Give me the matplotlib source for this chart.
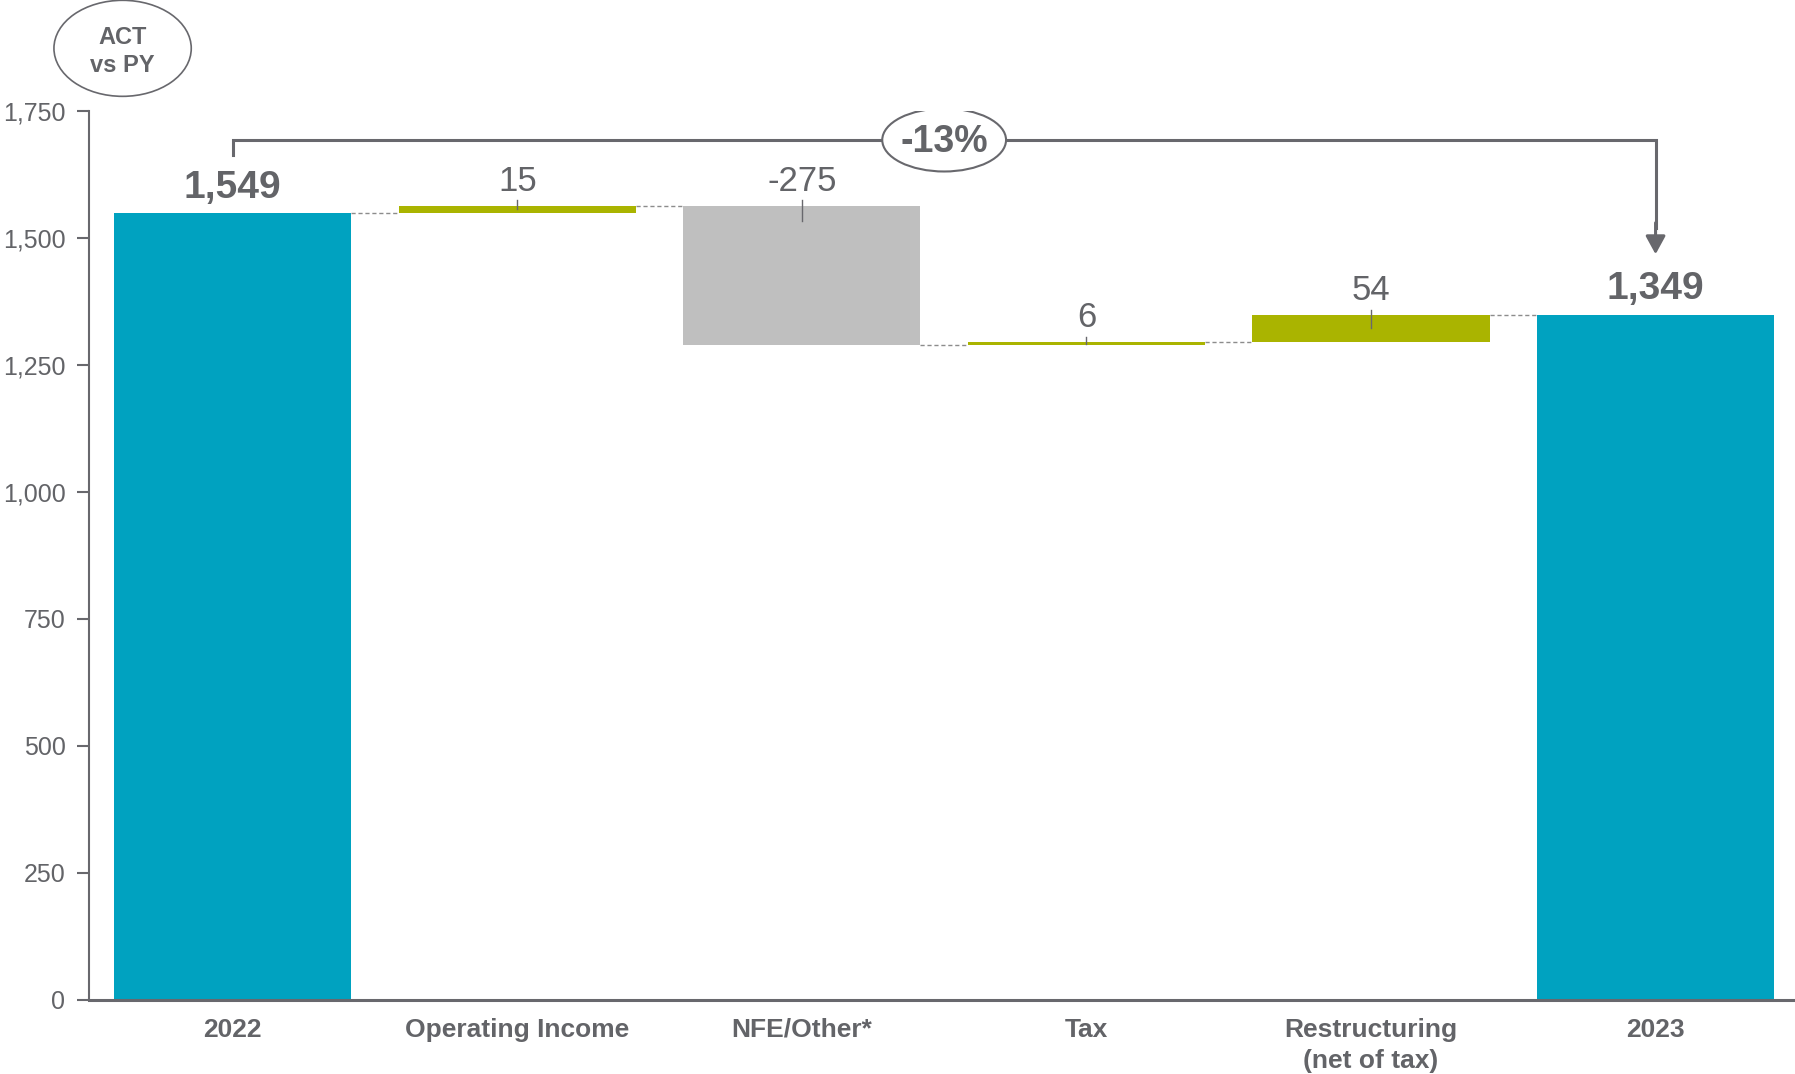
#!/usr/bin/env python3
"""Waterfall chart: ACT vs PY bridge 2022 -> 2023."""

import matplotlib
matplotlib.use("Agg")
import matplotlib.pyplot as plt
from matplotlib.patches import Ellipse

categories = ["2022", "Operating Income", "NFE/Other*", "Tax", "Restructuring\n(net of tax)", "2023"]
start_value = 1549
deltas = [15, -275, 6, 54]
end_value = 1349
delta_labels = ["15", "-275", "6", "54"]
total_labels = ["1,549", "1,349"]
change_label = "-13%"
yticks = [0, 250, 500, 750, 1000, 1250, 1500, 1750]

TEAL = "#00a2c0"
GREEN = "#aab400"
GREY_BAR = "#bfbfbf"
TEXT = "#636468"
LINE = "#68686d"

plt.rcParams["font.family"] = ["Liberation Sans Narrow", "Liberation Sans", "DejaVu Sans"]

fig = plt.figure(figsize=(17.95, 10.74), dpi=100)
ax = fig.add_axes([0.0496, 0.069, 0.9504, 0.8276])

width = 0.833
x = list(range(len(categories)))

# totals
ax.bar([x[0], x[-1]], [start_value, end_value], width=width, color=TEAL, zorder=2)

# deltas
level = start_value
levels = [start_value]
for i, d in enumerate(deltas):
    bottom = level if d >= 0 else level + d
    color = GREEN if d >= 0 else GREY_BAR
    ax.bar(x[i + 1], abs(d), bottom=bottom, width=width, color=color, zorder=2)
    top = bottom + abs(d)
    ax.plot([x[i + 1], x[i + 1]], [top + 10, top - min(0.5 * abs(d), 30)],
            color=LINE, lw=1, zorder=3)
    ax.text(x[i + 1], top + 48, delta_labels[i], ha="center", va="center",
            fontsize=25, color=TEXT)
    level += d
    levels.append(level)

# connectors
for i in range(len(categories) - 1):
    ax.plot([x[i] + width / 2, x[i + 1] - width / 2], [levels[i], levels[i]],
            color="#8c8c8c", lw=1, ls=(0, (3, 2)), zorder=1)

# total labels
ax.text(x[0], start_value + 50, total_labels[0], ha="center", va="center",
        fontsize=28, fontweight="bold", color=TEXT)
ax.text(x[-1], end_value + 50, total_labels[1], ha="center", va="center",
        fontsize=28, fontweight="bold", color=TEXT)

# bracket with change
y_br = 1693
ax.plot([x[0], x[0], x[-1], x[-1]], [1664, y_br, y_br, 1520], color=LINE, lw=2.2,
        zorder=3, solid_joinstyle="miter")
ax.annotate("", xy=(x[-1], 1468), xytext=(x[-1], 1530),
            arrowprops=dict(arrowstyle="-|>,head_length=1.1,head_width=0.6",
                            color=LINE, lw=2.2, shrinkA=0, shrinkB=0), zorder=3)
ax.add_patch(Ellipse((2.5, y_br), 0.435, 124, facecolor="white", edgecolor=LINE,
                     lw=1.5, zorder=4))
ax.text(2.5, y_br - 3, change_label, ha="center", va="center", fontsize=27,
        fontweight="bold", color=TEXT, zorder=5)

# ACT vs PY badge
fig.patches.append(Ellipse((0.0683, 0.955), 0.0765, 0.0894, transform=fig.transFigure,
                           facecolor="white", edgecolor=LINE, lw=1.2))
fig.text(0.0683, 0.952, "ACT\nvs PY", ha="center", va="center", fontsize=17,
         fontweight="bold", color=TEXT, linespacing=1.3)

ax.set_xlim(-0.505, 5.49)
ax.set_ylim(0, 1750)
ax.set_yticks(yticks)
ax.set_yticklabels([f"{v:,}" for v in yticks])
ax.set_xticks(x)
ax.set_xticklabels(categories, fontweight="bold", linespacing=1.35)
ax.tick_params(axis="y", length=9, width=1.5, color=LINE, labelsize=18,
               labelcolor=TEXT, pad=8)
ax.tick_params(axis="x", length=0, labelsize=19, labelcolor=TEXT, pad=13)
for side in ["top", "right"]:
    ax.spines[side].set_visible(False)
ax.spines["left"].set_color(LINE)
ax.spines["left"].set_linewidth(1.5)
ax.spines["bottom"].set_color(LINE)
ax.spines["bottom"].set_linewidth(2.2)
ax.spines["bottom"].set_zorder(5)

fig.savefig("out.png", dpi=100)
